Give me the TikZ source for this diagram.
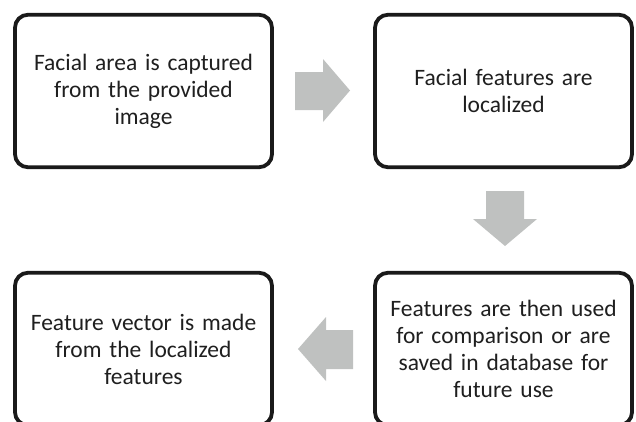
\documentclass[tikz,border=0pt]{standalone}
\usepackage{fontspec}
\setmainfont{Carlito}
\definecolor{arrgray}{HTML}{BFC1C0}
\definecolor{boxline}{HTML}{1A1A1A}
\tikzset{
  stepbox/.style={draw=boxline, line width=3.8pt, rounded corners=13pt, fill=white,
    minimum width=257pt, minimum height=152.5pt, align=center, text width=250pt,
    inner sep=0pt, font=\fontsize{23.5}{27}\selectfont, text=black!88},
  blockarrow/.style={fill=arrgray, draw=none}
}
\begin{document}
\begin{tikzpicture}[x=1pt,y=-1pt]
\useasboundingbox (0,0) rectangle (636,421);
\begin{scope}
\clip (0,0) rectangle (636,421);
\node[stepbox] (a) at (143.5,91) {Facial area is captured\\from the provided\\image};
\node[stepbox] (b) at (503.5,91) {Facial features are\\localized};
\node[stepbox] (c) at (503.5,349) {Features are then used\\for comparison or are\\saved in database for\\future use};
\node[stepbox] (d) at (143.5,349) {Feature vector is made\\from the localized\\features};
\end{scope}
\fill[blockarrow] (295,72) -- (323,72) -- (323,59) -- (350,90.5) -- (323,122) -- (323,110) -- (295,110) -- cycle;
\fill[blockarrow] (486,191) -- (524,191) -- (524,219) -- (537,219) -- (505,246) -- (473,219) -- (486,219) -- cycle;
\fill[blockarrow] (353,330) -- (326,330) -- (326,317) -- (298,349) -- (326,381) -- (326,369) -- (353,369) -- cycle;
\end{tikzpicture}
\end{document}
